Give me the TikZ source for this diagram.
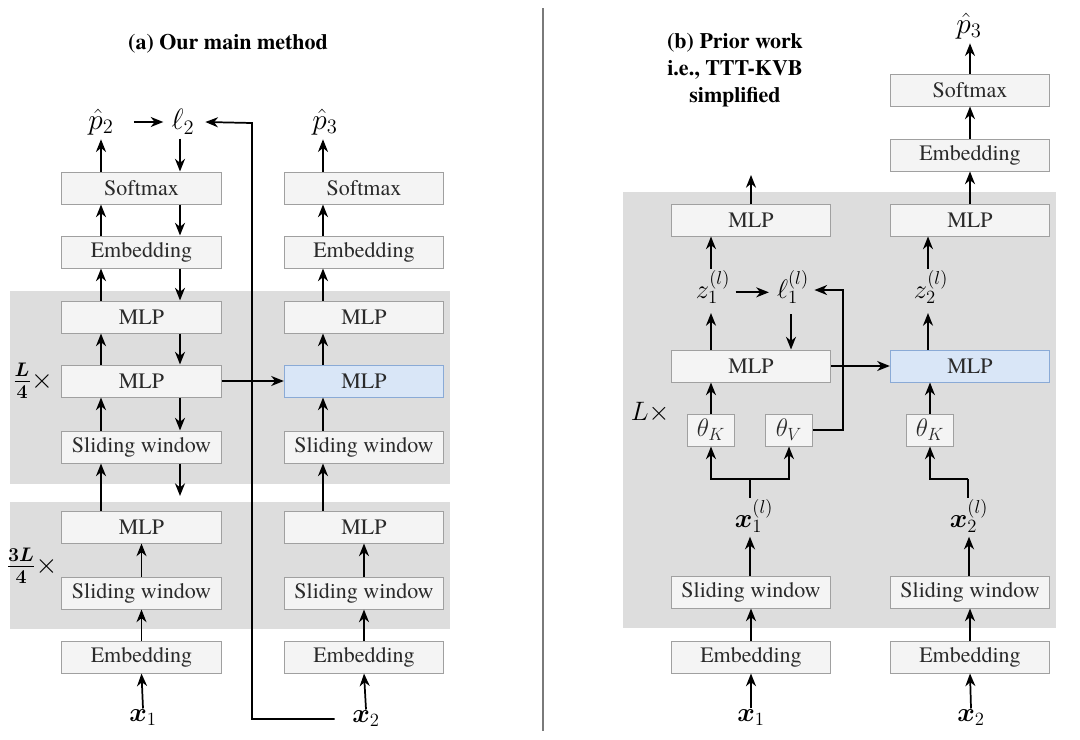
\RequirePackage{fix-cm}
\documentclass[tikz,border=0pt]{standalone}
\usepackage{bm}
\usepackage{fontspec}
\setmainfont{texgyretermes}[Extension=.otf,UprightFont=*-regular,BoldFont=*-bold,ItalicFont=*-italic,BoldItalicFont=*-bolditalic]
\newfontfamily\serifbox{texgyretermes}[Extension=.otf,UprightFont=*-regular,BoldFont=*-bold,ItalicFont=*-italic,BoldItalicFont=*-bolditalic]
\usetikzlibrary{arrows.meta,calc}
\definecolor{boxline}{HTML}{A0A0A0}
\definecolor{boxfill}{HTML}{F4F4F4}
\definecolor{boxtext}{HTML}{2A2A2A}
\definecolor{blueline}{HTML}{8AAAD6}
\definecolor{bluefill}{HTML}{D9E6F7}
\definecolor{bgfill}{HTML}{DDDDDD}
\definecolor{sepcol}{HTML}{7A7A7A}
\begin{document}
\begin{tikzpicture}[x=0.75pt,y=-0.75pt,
  blk/.style={draw=boxline,fill=boxfill,line width=0.75pt,minimum width=119.5pt,minimum height=24pt,inner sep=0pt,text=boxtext,font=\serifbox\fontsize{16.5}{19}\selectfont},
  bluebox/.style={blk,draw=blueline,fill=bluefill},
  thbox/.style={blk,minimum width=35.5pt,font=\fontsize{19}{21}\selectfont},
  lbl/.style={inner sep=1pt,font=\fontsize{20}{22}\selectfont},
  biglbl/.style={lbl,font=\fontsize{22}{24}\selectfont},
  arr/.style={line width=1.3pt,-{Stealth[length=9.5pt,width=7.5pt,inset=3pt]}},
  ln/.style={line width=1.3pt},
  bg/.style={fill=bgfill},
  ttl/.style={font=\serifbox\fontsize{16.5}{20.5}\selectfont\bfseries,align=center}
]
\useasboundingbox (0,0) rectangle (1080,739);
\fill[white] (0,0) rectangle (1080,739);

% ---------------- Panel (a) ----------------
\node[ttl] (ta) at (228,44) {(a) Our main method};
\fill[bg] (10,291) rectangle (450,484);
\fill[bg] (10,502) rectangle (450,629);

\coordinate (upA) at (101,0);
\coordinate (dnA) at (180,0);
\coordinate (colB) at (323,0);
\coordinate (dnEnd) at (180,496);
\coordinate (fbTop) at (252,123);

\node[blk] (smA) at (141.5,188) {Softmax};
\node[blk] (emA) at (141.5,252) {Embedding};
\node[blk] (m1A) at (141.5,317) {MLP};
\node[blk] (m2A) at (141.5,381) {MLP};
\node[blk] (swA) at (141.5,447) {Sliding window};
\node[blk] (m3A) at (141.5,527) {MLP};
\node[blk] (sw2A) at (141.5,593) {Sliding window};
\node[blk] (ebA) at (141.5,657) {Embedding};

\node[blk] (smB) at (364,188) {Softmax};
\node[blk] (emB) at (364,252) {Embedding};
\node[blk] (m1B) at (364,317) {MLP};
\node[bluebox] (m2B) at (364,381) {MLP};
\node[blk] (swB) at (364,447) {Sliding window};
\node[blk] (m3B) at (364,527) {MLP};
\node[blk] (sw2B) at (364,593) {Sliding window};
\node[blk] (ebB) at (364,657) {Embedding};

\node[biglbl] (p2) at (101,122) {$\hat p_2$};
\node[biglbl] (l2) at (183,122) {$\ell_2$};
\node[biglbl] (p3) at (325,122) {$\hat p_3$};
\node[lbl] (x1a) at (143,718) {$\bm{x}_1$};
\node[lbl] (x2a) at (366,719) {$\bm{x}_2$};
\node[lbl,font=\fontsize{21}{23}\selectfont] (fa) at (33,381) {$\bm{\frac{L}{4}}\times$};
\node[lbl,font=\fontsize{21}{23}\selectfont] (fb) at (32,566) {$\bm{\frac{3L}{4}}\times$};

% up arrows column A
\draw[arr] (m3A.north -| upA) -- (swA.south -| upA);
\draw[arr] (swA.north -| upA) -- (m2A.south -| upA);
\draw[arr] (m2A.north -| upA) -- (m1A.south -| upA);
\draw[arr] (m1A.north -| upA) -- (emA.south -| upA);
\draw[arr] (emA.north -| upA) -- (smA.south -| upA);
\draw[arr,shorten >=2pt] (smA.north -| upA) -- (p2.south -| upA);
% down arrows column A
\draw[arr,shorten <=2pt] (l2.south -| dnA) -- (smA.north -| dnA);
\draw[arr] (smA.south -| dnA) -- (emA.north -| dnA);
\draw[arr] (emA.south -| dnA) -- (m1A.north -| dnA);
\draw[arr] (m1A.south -| dnA) -- (m2A.north -| dnA);
\draw[arr] (m2A.south -| dnA) -- (swA.north -| dnA);
\draw[arr] (swA.south -| dnA) -- (dnEnd);
% lower column A
\draw[arr] (x1a.north) -- (ebA.south);
\draw[arr] (ebA.north) -- (sw2A.south);
\draw[arr] (sw2A.north) -- (m3A.south);
% loss
\draw[arr] ([xshift=14pt]p2.east) -- ([xshift=-5pt]l2.west);
\draw[arr] ([xshift=-12pt]x2a.west) -| (fbTop) -- ([xshift=7pt]l2.east);
\draw[arr] (m2A.east) -- (m2B.west);
% column B
\draw[arr] (m3B.north -| colB) -- (swB.south -| colB);
\draw[arr] (swB.north -| colB) -- (m2B.south -| colB);
\draw[arr] (m2B.north -| colB) -- (m1B.south -| colB);
\draw[arr] (m1B.north -| colB) -- (emB.south -| colB);
\draw[arr] (emB.north -| colB) -- (smB.south -| colB);
\draw[arr,shorten >=2pt] (smB.north -| colB) -- (p3.south -| colB);
\draw[arr] (x2a.north) -- (ebB.south);
\draw[arr] (ebB.north) -- (sw2B.south);
\draw[arr] (sw2B.north) -- (m3B.south);

% separator
\draw[sepcol,line width=1.4pt] (543,8) -- (543,731);

% ---------------- Panel (b) ----------------
\node[ttl] (tb) at (735,70) {(b) Prior work\\i.e., TTT-KVB\\simplified};
\fill[bg] (623,192) rectangle (1056,628);

\coordinate (c711) at (711,0);
\coordinate (c750) at (750,0);
\coordinate (c791) at (791,0);
\coordinate (c928) at (928,0);
\coordinate (c969) at (969,0);
\coordinate (topFree) at (751,175);
\coordinate (fbR) at (843,290);
\coordinate (br1) at (750,479);
\coordinate (br2) at (968,479);

\node[blk] (smD) at (970,90) {Softmax};
\node[blk] (emD) at (970,155) {Embedding};
\node[blk] (mtC) at (751,220) {MLP};
\node[blk] (mtD) at (970,220) {MLP};
\node[blk] (mC) at (751,366) {MLP};
\node[bluebox] (mD) at (970,366) {MLP};
\node[thbox] (thK) at (711,430) {$\theta_K$};
\node[thbox] (thV) at (789,430) {$\theta_V$};
\node[thbox] (thK2) at (930,430) {$\theta_K$};
\node[blk] (swC) at (751,592) {Sliding window};
\node[blk] (swD) at (970,592) {Sliding window};
\node[blk] (ebC) at (751,657) {Embedding};
\node[blk] (ebD) at (970,657) {Embedding};

\node[biglbl] (p3r) at (969,26) {$\hat p_3$};
\node[lbl] (z1) at (713,287) {$z_1^{(l)}$};
\node[lbl] (l1) at (793,287) {$\ell_1^{(l)}$};
\node[lbl] (z2) at (931,287) {$z_2^{(l)}$};
\node[lbl] (x1l) at (754,516) {$\bm{x}_1^{(l)}$};
\node[lbl] (x2l) at (969,516) {$\bm{x}_2^{(l)}$};
\node[lbl] (x1r) at (751,718) {$\bm{x}_1$};
\node[lbl] (x2r) at (971,718) {$\bm{x}_2$};
\node[lbl] (Lx) at (650,412) {$L\times$};

% column C
\draw[arr] (mtC.north) -- (topFree);
\draw[arr] (z1.north -| c711) -- (mtC.south -| c711);
\draw[arr,shorten >=6pt] (mC.north -| c711) -- (z1.south -| c711);
\draw[arr] ([xshift=3pt,yshift=-4pt]z1.east) -- ([xshift=-5pt,yshift=-4pt]l1.west);
\draw[arr,shorten <=7pt] (l1.south -| c791) -- (mC.north -| c791);
\draw[arr,shorten >=3pt] (thV.east) -| (fbR) -- (fbR -| l1.east);
\draw[arr] (mC.east) -- (mD.west);
\draw[arr] (thK.north) -- (mC.south -| thK.north);
\draw[ln] (x1l.north -| c750) -- (br1);
\draw[arr] (br1) -| (thK.south);
\draw[arr] (br1) -| (thV.south);
\draw[arr,shorten >=2pt] (swC.north -| c750) -- (x1l.south -| c750);
\draw[arr] (ebC.north) -- (swC.south);
\draw[arr] (x1r.north) -- (ebC.south);
% column D
\draw[ln] (x2l.north -| br2) -- (br2);
\draw[arr] (br2) -| (thK2.south);
\draw[arr] (thK2.north) -- (mD.south -| thK2.north);
\draw[arr,shorten >=6pt] (mD.north -| c928) -- (z2.south -| c928);
\draw[arr] (z2.north -| c928) -- (mtD.south -| c928);
\draw[arr] (mtD.north) -- (emD.south);
\draw[arr] (emD.north) -- (smD.south);
\draw[arr,shorten >=2pt] (smD.north) -- (p3r.south -| smD.north);
\draw[arr,shorten >=2pt] (swD.north -| c969) -- (x2l.south -| c969);
\draw[arr] (ebD.north) -- (swD.south);
\draw[arr] (x2r.north) -- (ebD.south);
\end{tikzpicture}
\end{document}
